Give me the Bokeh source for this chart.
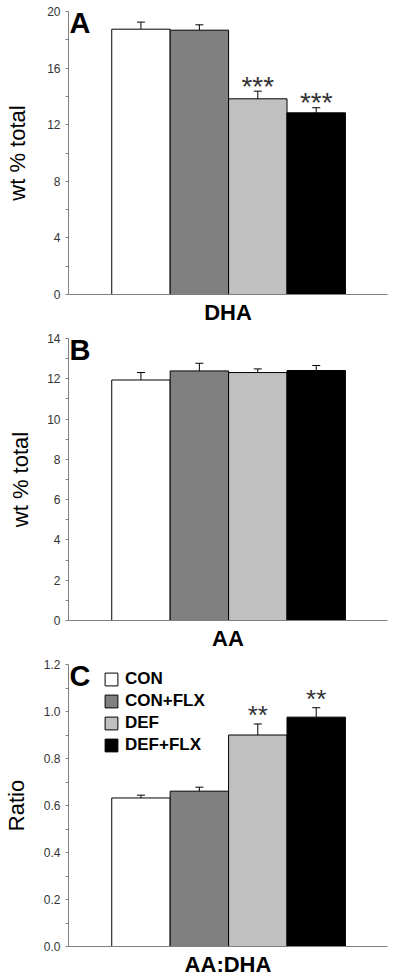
from bokeh.plotting import figure
from bokeh.models import (ColumnDataSource, Range1d, FixedTicker, Whisker, TeeHead,
                          Legend, LegendItem, PrintfTickFormatter)
from bokeh.layouts import column
from bokeh.embed import file_html
from bokeh.resources import INLINE
from bokeh.core.properties import value

# ---- data ----
groups = ["CON", "CON+FLX", "DEF", "DEF+FLX"]
colors = ["#ffffff", "#808080", "#c0c0c0", "#000000"]

dha_mean = [18.75, 18.68, 13.83, 12.84]
dha_sem = [0.50, 0.38, 0.54, 0.36]
dha_sig = ["", "", "***", "***"]
dha_ticks = [0, 4, 8, 12, 16, 20]
dha_minor = [2, 6, 10, 14, 18]

aa_mean = [11.94, 12.39, 12.31, 12.41]
aa_sem = [0.37, 0.38, 0.18, 0.25]
aa_sig = ["", "", "", ""]
aa_ticks = [0, 2, 4, 6, 8, 10, 12, 14]
aa_minor = [1, 3, 5, 7, 9, 11, 13]

ratio_mean = [0.632, 0.661, 0.900, 0.976]
ratio_sem = [0.012, 0.017, 0.047, 0.040]
ratio_sig = ["", "", "**", "**"]
ratio_ticks = [0.0, 0.2, 0.4, 0.6, 0.8, 1.0, 1.2]
ratio_minor = [0.1, 0.3, 0.5, 0.7, 0.9, 1.1]

FONT = "Liberation Sans"
XMIN, XMAX = -1.24, 4.22


def panel(letter, means, sems, sig, ticks, minor, ymax, ylabel, xlabel,
          height, top, bottom, left=65, right=10, fmt=None, star_size="28px",
          star_off=-5, ylab_standoff=10, xlab_standoff=5, legend=False):
    p = figure(width=400, height=height, output_backend="svg",
               toolbar_location=None, x_range=Range1d(XMIN, XMAX),
               y_range=Range1d(0, ymax), min_border_left=left,
               min_border_right=right, min_border_top=top,
               min_border_bottom=bottom)
    p.outline_line_color = None
    p.grid.visible = False
    p.background_fill_color = "white"
    p.border_fill_color = "white"

    xs = list(range(len(groups)))
    src = ColumnDataSource(dict(
        x=xs, mean=means, upper=[m + s for m, s in zip(means, sems)],
        color=colors, group=groups, sig=sig))
    bars = p.vbar(x="x", top="mean", width=1.0, bottom=0, source=src,
                  fill_color="color", line_color="black", line_width=1)
    wh = Whisker(source=src, base="x", lower="mean", upper="upper",
                 dimension="height", line_color="black", line_width=1,
                 lower_head=None, level="annotation",
                 upper_head=TeeHead(size=8, line_color="black", line_width=1))
    p.add_layout(wh)
    p.text(x="x", y="upper", text="sig", source=src,
           text_font=value(FONT), text_font_size=star_size,
           text_align="center", text_baseline="alphabetic",
           y_offset=star_off, text_color="#333333")
    p.text(x=[XMIN], y=[ymax], text=[letter], x_offset=1, y_offset=11,
           text_font=value(FONT), text_font_size="29px",
           text_font_style="bold", text_align="left",
           text_baseline="alphabetic", text_color="black")

    ya = p.yaxis[0]
    ya.ticker = FixedTicker(ticks=ticks, minor_ticks=minor)
    if fmt:
        ya.formatter = PrintfTickFormatter(format=fmt)
    ya.axis_line_color = "#808080"
    ya.major_tick_line_color = "#808080"
    ya.minor_tick_line_color = "#808080"
    ya.major_tick_out = 3
    ya.major_tick_in = 0
    ya.minor_tick_out = 3
    ya.minor_tick_in = 0
    ya.major_label_standoff = 5
    ya.major_label_text_font = FONT
    ya.major_label_text_font_size = "12px"
    ya.major_label_text_color = "#333333"
    ya.axis_label = ylabel
    ya.axis_label_text_font = FONT
    ya.axis_label_text_font_size = "22px"
    ya.axis_label_text_font_style = "normal"
    ya.axis_label_text_color = "black"
    ya.axis_label_standoff = ylab_standoff

    xa = p.xaxis[0]
    xa.ticker = FixedTicker(ticks=[])
    xa.axis_line_color = "#808080"
    xa.major_tick_out = 0
    xa.major_tick_in = 0
    xa.minor_tick_out = 0
    xa.minor_tick_in = 0
    xa.major_label_standoff = 0
    xa.axis_label = xlabel
    xa.axis_label_text_font = FONT
    xa.axis_label_text_font_size = "22px"
    xa.axis_label_text_font_style = "bold"
    xa.axis_label_text_color = "black"
    xa.axis_label_standoff = xlab_standoff

    if legend:
        items = [LegendItem(label=g, renderers=[bars], index=i)
                 for i, g in enumerate(groups)]
        lg = Legend(items=items, location=(35, 191), glyph_width=16,
                    glyph_height=16, label_height=16, label_standoff=6,
                    spacing=2, padding=0, margin=0, border_line_color=None,
                    background_fill_alpha=0, label_text_font=FONT,
                    label_text_font_size="17px", label_text_font_style="bold",
                    label_text_color="black")
        p.add_layout(lg)
    return p


pA = panel("A", dha_mean, dha_sem, dha_sig, dha_ticks, dha_minor, 20,
           "wt % total", "DHA", 328, 11, 34, star_size="28px", star_off=-5,
           ylab_standoff=14)
pB = panel("B", aa_mean, aa_sem, aa_sig, aa_ticks, aa_minor, 14,
           "wt % total", "AA", 326, 10, 34, ylab_standoff=11)
pC = panel("C", ratio_mean, ratio_sem, ratio_sig, ratio_ticks, ratio_minor,
           1.2, "Ratio", "AA:DHA", 326, 10, 34, left=63, right=13,
           fmt="%.1f", star_size="26px", star_off=-9, ylab_standoff=12,
           legend=True)

layout = column(pA, pB, pC, spacing=0)
open("out.html", "w").write(file_html(layout, INLINE))
